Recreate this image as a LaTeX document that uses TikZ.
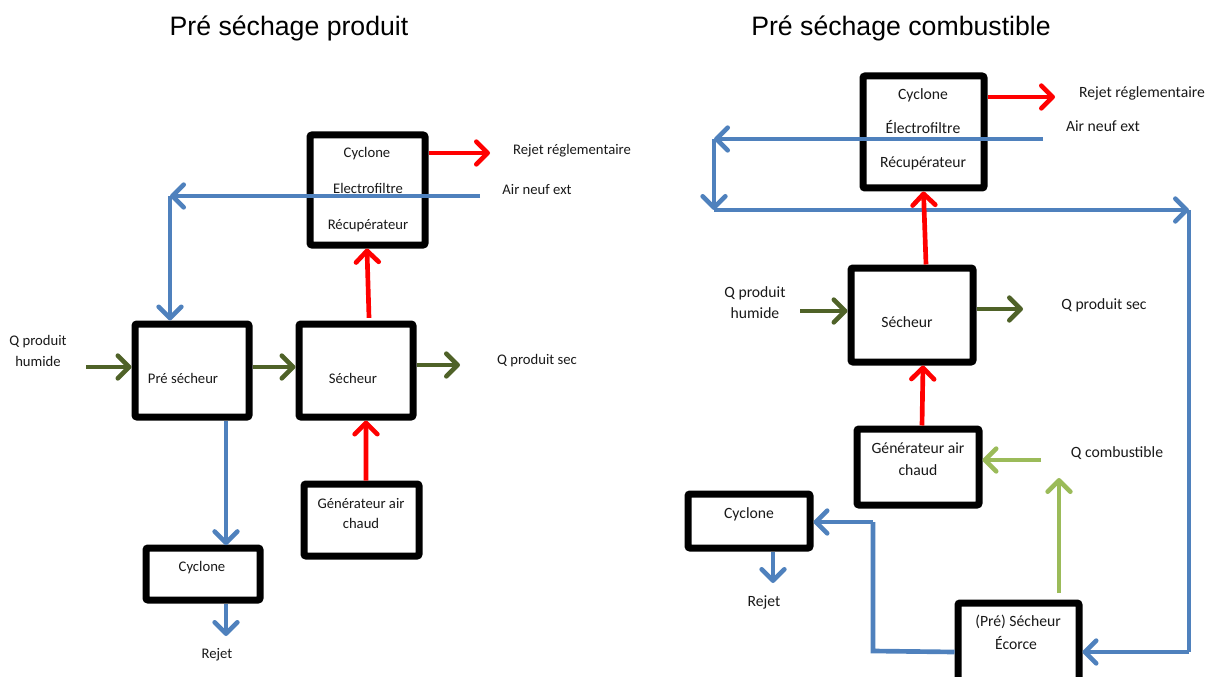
\documentclass[tikz,border=0pt]{standalone}
\usepackage{fontspec}
\setmainfont{Carlito}
\newfontfamily\titlefont{Liberation Sans}
\usetikzlibrary{arrows.meta}
\definecolor{flowblue}{HTML}{4F81BD}
\definecolor{flowgreen}{HTML}{4F6228}
\definecolor{fuelgreen}{HTML}{9BBB59}
\definecolor{flowred}{HTML}{FF0000}
\tikzset{
  x=0.75pt,y=-0.75pt,
  box/.style={draw=black,fill=white,line width=5.25pt,rounded corners=1.5pt,inner sep=0pt},
  txt/.style={font=\fontsize{11pt}{13pt}\selectfont,inner sep=0pt,text height=7.5pt,text depth=2.2pt,text=black!90,yshift=-1.5pt},
  txtr/.style={font=\fontsize{11.75pt}{13pt}\selectfont,inner sep=0pt,text height=7.5pt,text depth=2.2pt,text=black!90,yshift=-1.5pt},
  ttl/.style={font=\titlefont\fontsize{20pt}{22pt}\selectfont,inner sep=0pt,text height=13pt,text depth=3.5pt,yshift=-1.5pt},
  flow/.style={line width=3.5pt,line join=miter,-{Straight Barb[length=8.5pt,width=17pt,line width=3.5pt,round]}},
  plain/.style={line width=3.5pt},
  blue/.style={draw=flowblue},
  dgreen/.style={draw=flowgreen},
  lgreen/.style={draw=fuelgreen},
  hot/.style={draw=flowred}
}
\begin{document}
\begin{tikzpicture}
\useasboundingbox (0,0) rectangle (1205,677);
% titles
\node[ttl] (t1) at (289,27) {Pré séchage produit};
\node[ttl] (t2) at (901,27) {Pré séchage combustible};
% left boxes
\node[box,minimum width=86.25pt,minimum height=82.5pt] (A) at (367.5,190) {};
\node[box,minimum width=85.5pt,minimum height=69.75pt] (B) at (192,370.5) {};
\node[box,minimum width=85.5pt,minimum height=69.75pt] (C) at (356,370.5) {};
\node[box,minimum width=86.25pt,minimum height=54pt] (D) at (361.5,520) {};
\node[box,minimum width=85.5pt,minimum height=39pt] (E) at (203,574) {};
% right boxes
\node[box,minimum width=90.75pt,minimum height=84pt] (F) at (923.5,132) {};
\node[box,minimum width=91.5pt,minimum height=70.5pt] (G) at (912,315) {};
\node[box,minimum width=91.5pt,minimum height=57pt] (H) at (918,467) {};
\node[box,minimum width=91.5pt,minimum height=40.5pt] (I) at (749,521) {};
\node[box,minimum width=90.75pt,minimum height=63pt] (J) at (1018.5,645) {};
% left labels
\node[txt] (a1) at (367,152) {Cyclone};
\node[txt] (a2) at (368,188) {Electrofiltre};
\node[txt] (a3) at (368,224) {Récupérateur};
\node[txt] (b1) at (183,378) {Pré sécheur};
\node[txt] (c1) at (353,378) {Sécheur};
\node[txt] (d1) at (361,503) {Générateur air};
\node[txt] (d2) at (361,523) {chaud};
\node[txt] (e1) at (202,566) {Cyclone};
\node[txt] (q1) at (38,340) {Q produit};
\node[txt] (q2) at (38,361) {humide};
\node[txt] (q3) at (537,359) {Q produit sec};
\node[txt] (q4) at (537,189) {Air neuf ext};
\node[txt] (q5) at (572,149) {Rejet réglementaire};
\node[txt] (q6) at (217,653) {Rejet};
% right labels
\node[txtr] (f1) at (923,94) {Cyclone};
\node[txtr] (f2) at (923,128) {Électrofiltre};
\node[txtr] (f3) at (923,162) {Récupérateur};
\node[txtr] (g1) at (907,322) {Sécheur};
\node[txtr] (h1) at (918,448) {Générateur air};
\node[txtr] (h2) at (918,470) {chaud};
\node[txtr] (i1) at (749,513) {Cyclone};
\node[txtr] (j1) at (1018,621) {(Pré) Sécheur};
\node[txtr] (j2) at (1016,644) {Écorce};
\node[txtr] (r1) at (755,292) {Q produit};
\node[txtr] (r2) at (755,313) {humide};
\node[txtr] (r3) at (1104,304) {Q produit sec};
\node[txtr] (r4) at (1103,126) {Air neuf ext};
\node[txtr] (r5) at (1142,92) {Rejet réglementaire};
\node[txtr] (r6) at (764,601) {Rejet};
\node[txtr] (r7) at (1117,452) {Q combustible};
% free ends, left
\coordinate (lrej) at (490,153);
\coordinate (lairin) at (480,196);
\coordinate (lcorner) at (170,196);
\coordinate (lqin) at (86,367);
\coordinate (lqout) at (460,365);
\coordinate (lrejet) at (226,636);
% free ends, right
\coordinate (rrej) at (1055,97);
\coordinate (rairin) at (1043,139);
\coordinate (rc1) at (714,139);
\coordinate (rc2) at (714,210);
\coordinate (rc3) at (1189,210);
\coordinate (rc4) at (1189,652);
\coordinate (rqin) at (800,311);
\coordinate (rqout) at (1023,309);
\coordinate (rfuel) at (1041,460);
\coordinate (rfuelup) at (1059,478);
\coordinate (rfuelfoot) at (1059,593);
\coordinate (rc5) at (873,651);
\coordinate (rc6) at (873,522);
\coordinate (rrejet) at (773,583);
% left connectors
\draw[flow,hot] (A.east |- lrej) -- (lrej);
\draw[flow,blue] (lairin) -- (lcorner);
\draw[flow,blue] (lcorner) -- (lcorner |- B.north);
\draw[flow,dgreen] (lqin) -- (B.west |- lqin);
\draw[flow,dgreen] (B.east |- lqin) -- (C.west |- lqin);
\draw[flow,dgreen] (C.east |- lqout) -- (lqout);
\draw[flow,hot] ([xshift=9.75pt,yshift=2pt]C.north) -- ([xshift=-0.4pt]A.south);
\draw[flow,hot] ([xshift=3.4pt]D.north) -- ([xshift=7.5pt]C.south);
\draw[flow,blue] ([xshift=25.5pt]B.south) -- ([xshift=25.5pt,yshift=-0.5pt]B.south |- E.north);
\draw[flow,blue] ([xshift=17.25pt]E.south) -- (lrejet);
% right connectors
\draw[flow,hot] (F.east |- rrej) -- (rrej);
\draw[flow,blue] (rairin) -- (rc1);
\draw[flow,blue] (rc1) -- (rc2);
\draw[flow,blue] (rc2) -- (rc3);
\draw[plain,blue] (rc3) -- (rc4);
\draw[flow,blue] (rc4) -- (J.east |- rc4);
\draw[flow,hot] ([xshift=10.5pt]G.north) -- (F.south);
\draw[flow,hot] ([xshift=3pt]H.north) -- ([xshift=8.25pt]G.south);
\draw[flow,dgreen] (rqin) -- (G.west |- rqin);
\draw[flow,dgreen] (G.east |- rqout) -- (rqout);
\draw[flow,lgreen] (rfuel) -- (H.east |- rfuel);
\draw[flow,lgreen] (rfuelfoot) -- (rfuelup);
\draw[plain,blue] (J.west |- rc4) -- (rc5) -- (rc6);
\draw[flow,blue] (rc6) -- (I.east |- rc6);
\draw[flow,blue] ([xshift=18pt]I.south) -- (rrejet);
\end{tikzpicture}
\end{document}
